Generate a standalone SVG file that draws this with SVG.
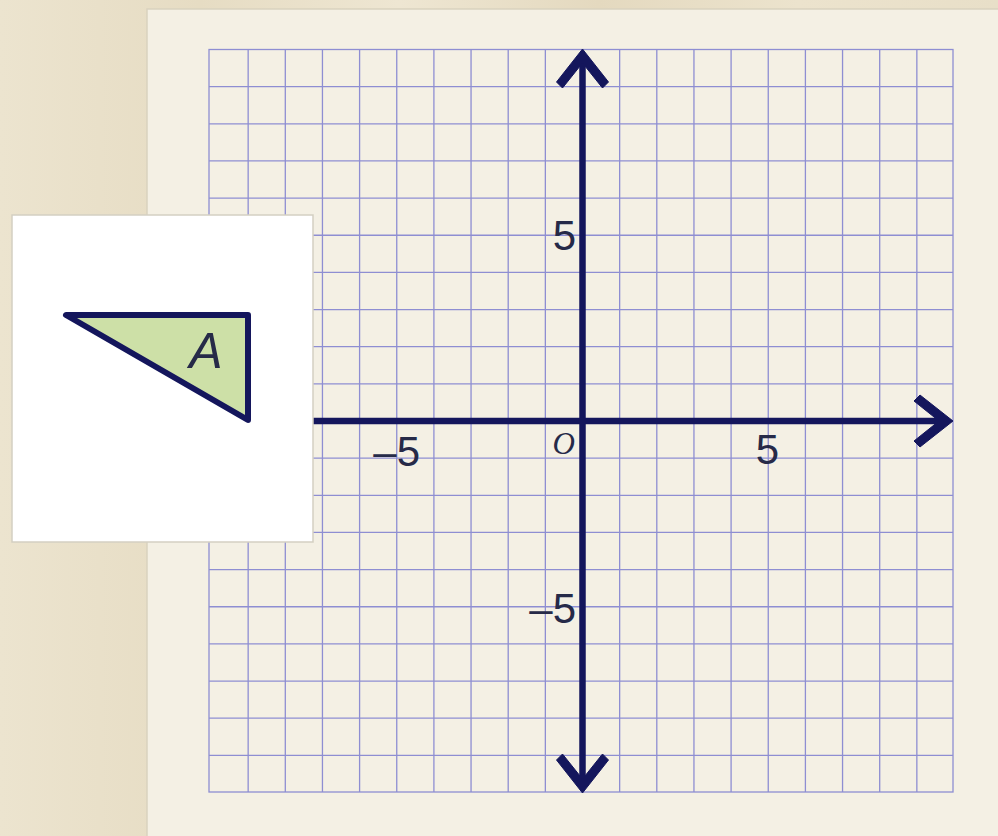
<svg xmlns="http://www.w3.org/2000/svg" width="998" height="836" viewBox="0 0 998 836">
  <style>
    .grid { fill: none; stroke: #8e8ed2; stroke-width: 1.3; }
    .axis { fill: none; stroke: #14165c; stroke-width: 6.5; }
    .head { fill: #14165c; stroke: #14165c; stroke-width: 1; stroke-linejoin: round; }
    .num { font-family: "Liberation Sans", Arial, sans-serif; font-size: 42px; fill: #262a48; text-anchor: end; }
  </style>
  <defs>
    <linearGradient id="wood" x1="0" y1="0" x2="1" y2="0">
      <stop offset="0" stop-color="#ece4cf"/>
      <stop offset="0.2" stop-color="#e6dcc3"/>
      <stop offset="0.4" stop-color="#eee6d2"/>
      <stop offset="0.6" stop-color="#e4d9bf"/>
      <stop offset="0.8" stop-color="#ece3cd"/>
      <stop offset="1" stop-color="#e8dfc8"/>
    </linearGradient>
    <path id="ah" class="head" d="M3,0 L-30,-26 L-36,-20 L-11,0 L-36,20 L-30,26 Z"/>
  </defs>

  <!-- background -->
  <rect x="0" y="0" width="998" height="836" fill="url(#wood)"/>
  <rect x="147" y="9" width="860" height="840" fill="#f4f0e4" stroke="#d9d2bf" stroke-width="1.5"/>

  <!-- grid -->
  <g id="grid">
    <rect class="grid" x="209" y="49.5" width="744" height="742.5"/>
    <path class="grid" d="M248.15,49.5V792 M285.3,49.5V792 M322.45,49.5V792 M359.6,49.5V792 M396.75,49.5V792 M433.9,49.5V792 M471.05,49.5V792 M508.2,49.5V792 M545.35,49.5V792 M582.5,49.5V792 M619.65,49.5V792 M656.8,49.5V792 M693.95,49.5V792 M731.1,49.5V792 M768.25,49.5V792 M805.4,49.5V792 M842.55,49.5V792 M879.7,49.5V792 M916.85,49.5V792
      M209,86.65H953 M209,123.8H953 M209,160.95H953 M209,198.1H953 M209,235.25H953 M209,272.4H953 M209,309.55H953 M209,346.7H953 M209,383.85H953 M209,421H953 M209,458.15H953 M209,495.3H953 M209,532.45H953 M209,569.6H953 M209,606.75H953 M209,643.9H953 M209,681.05H953 M209,718.2H953 M209,755.35H953"/>
  </g>

  <!-- axes -->
  <g id="axes">
    <line class="axis" x1="200" y1="421" x2="942" y2="421"/>
    <line class="axis" x1="582.5" y1="60" x2="582.5" y2="782"/>
    <use href="#ah" transform="translate(950,421)"/>
    <use href="#ah" transform="translate(582.5,52) rotate(-90)"/>
    <use href="#ah" transform="translate(582.5,790) rotate(90)"/>
  </g>

  <!-- axis labels -->
  <g id="labels">
    <text class="num" x="576" y="250">5</text>
    <text class="num" x="576" y="623">–5</text>
    <text class="num" x="420" y="466">–5</text>
    <text class="num" x="779" y="464">5</text>
    <text x="575" y="454" font-family="'Liberation Serif', 'Times New Roman', serif" font-style="italic" font-size="31" fill="#262a48" text-anchor="end">O</text>
  </g>

  <!-- inset box with triangle A -->
  <g id="shapeA">
    <rect x="12" y="215" width="301" height="327" fill="#ffffff" stroke="#d4cfc2" stroke-width="1.5"/>
    <polygon points="66,315 248,315 248,420" fill="#cde0a7" stroke="#14165c" stroke-width="6" stroke-linejoin="round"/>
    <text x="206" y="368" font-family="'Liberation Sans', Arial, sans-serif" font-style="italic" font-size="50" fill="#262a48" text-anchor="middle">A</text>
  </g>
</svg>
